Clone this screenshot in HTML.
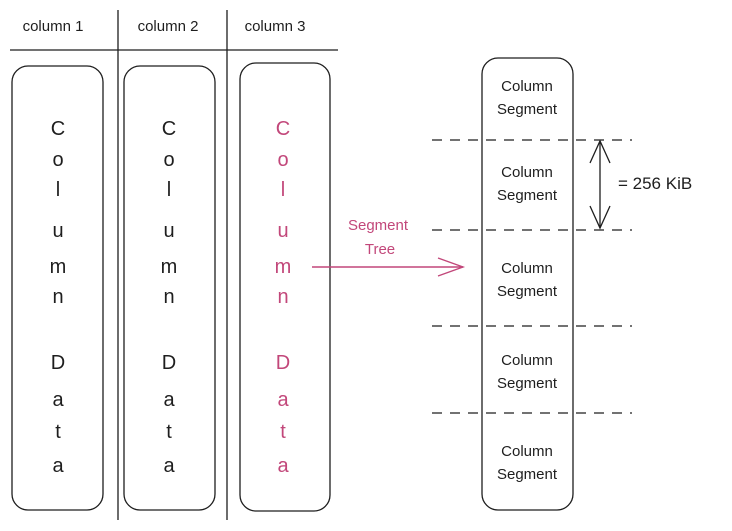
<!DOCTYPE html>
<html><head><meta charset="utf-8"><style>
html,body{margin:0;padding:0;background:#fff;width:732px;height:531px;overflow:hidden}
svg{display:block}
text{font-family:"Liberation Sans",sans-serif;fill:#1e1e1e}
.p{fill:#c2477a}
</style></head><body>
<svg width="732" height="531" viewBox="0 0 732 531">
<g stroke="#1e1e1e" stroke-width="1.3" fill="none">
<line x1="10" y1="50" x2="338" y2="50"/>
<line x1="118" y1="10" x2="118" y2="520"/>
<line x1="227" y1="10" x2="227" y2="520"/>
<rect x="12" y="66" width="91" height="444" rx="16"/>
<rect x="124" y="66" width="91" height="444" rx="16"/>
<rect x="240" y="63" width="90" height="448" rx="16"/>
<rect x="482" y="58" width="91" height="452" rx="16"/>
<g stroke-dasharray="10 8">
<line x1="432" y1="140" x2="632" y2="140"/>
<line x1="432" y1="230" x2="632" y2="230"/>
<line x1="432" y1="326" x2="632" y2="326"/>
<line x1="432" y1="413" x2="632" y2="413"/>
</g>
<g>
<line x1="600" y1="141" x2="600" y2="228"/>
<polyline points="590,163 600,141 610,163"/>
<polyline points="590,206 600,228 610,206"/>
</g>
</g>
<g stroke="#c2477a" stroke-width="1.4" fill="none">
<line x1="312" y1="267" x2="463" y2="267"/>
<polyline points="438,258 463,267 438,276"/>
</g>
<g font-size="15" text-anchor="middle">
<text x="53" y="31">column 1</text>
<text x="168" y="31">column 2</text>
<text x="275" y="31">column 3</text>
</g>
<g font-size="20" text-anchor="middle" id="letters"></g>
<g font-size="15" text-anchor="middle">
<text class="p" x="378" y="230">Segment</text>
<text class="p" x="380" y="254">Tree</text>
</g>
<g font-size="15" text-anchor="middle" id="segs"></g>
<text x="618" y="189" font-size="17">= 256 KiB</text>
</svg>
<script>
const letters=["C","o","l","u","m","n","","D","a","t","a"];
const ys=[135,166,196,237,273,303,0,369,406,438,472];
const cols=[58,169,283];
const g=document.getElementById('letters');
cols.forEach((cx,ci)=>letters.forEach((ch,i)=>{if(!ch)return;
const t=document.createElementNS('http://www.w3.org/2000/svg','text');
t.setAttribute('x',cx);t.setAttribute('y',ys[i]);t.textContent=ch;
if(ci===2)t.setAttribute('class','p');


g.appendChild(t);}));
const segY=[91,177,273,365,456];
const s=document.getElementById('segs');
segY.forEach(y=>{[["Column",0],["Segment",23]].forEach(([w,d])=>{
const t=document.createElementNS('http://www.w3.org/2000/svg','text');
t.setAttribute('x',527);t.setAttribute('y',y+d);t.textContent=w;


s.appendChild(t);});});
</script>
</body></html>
